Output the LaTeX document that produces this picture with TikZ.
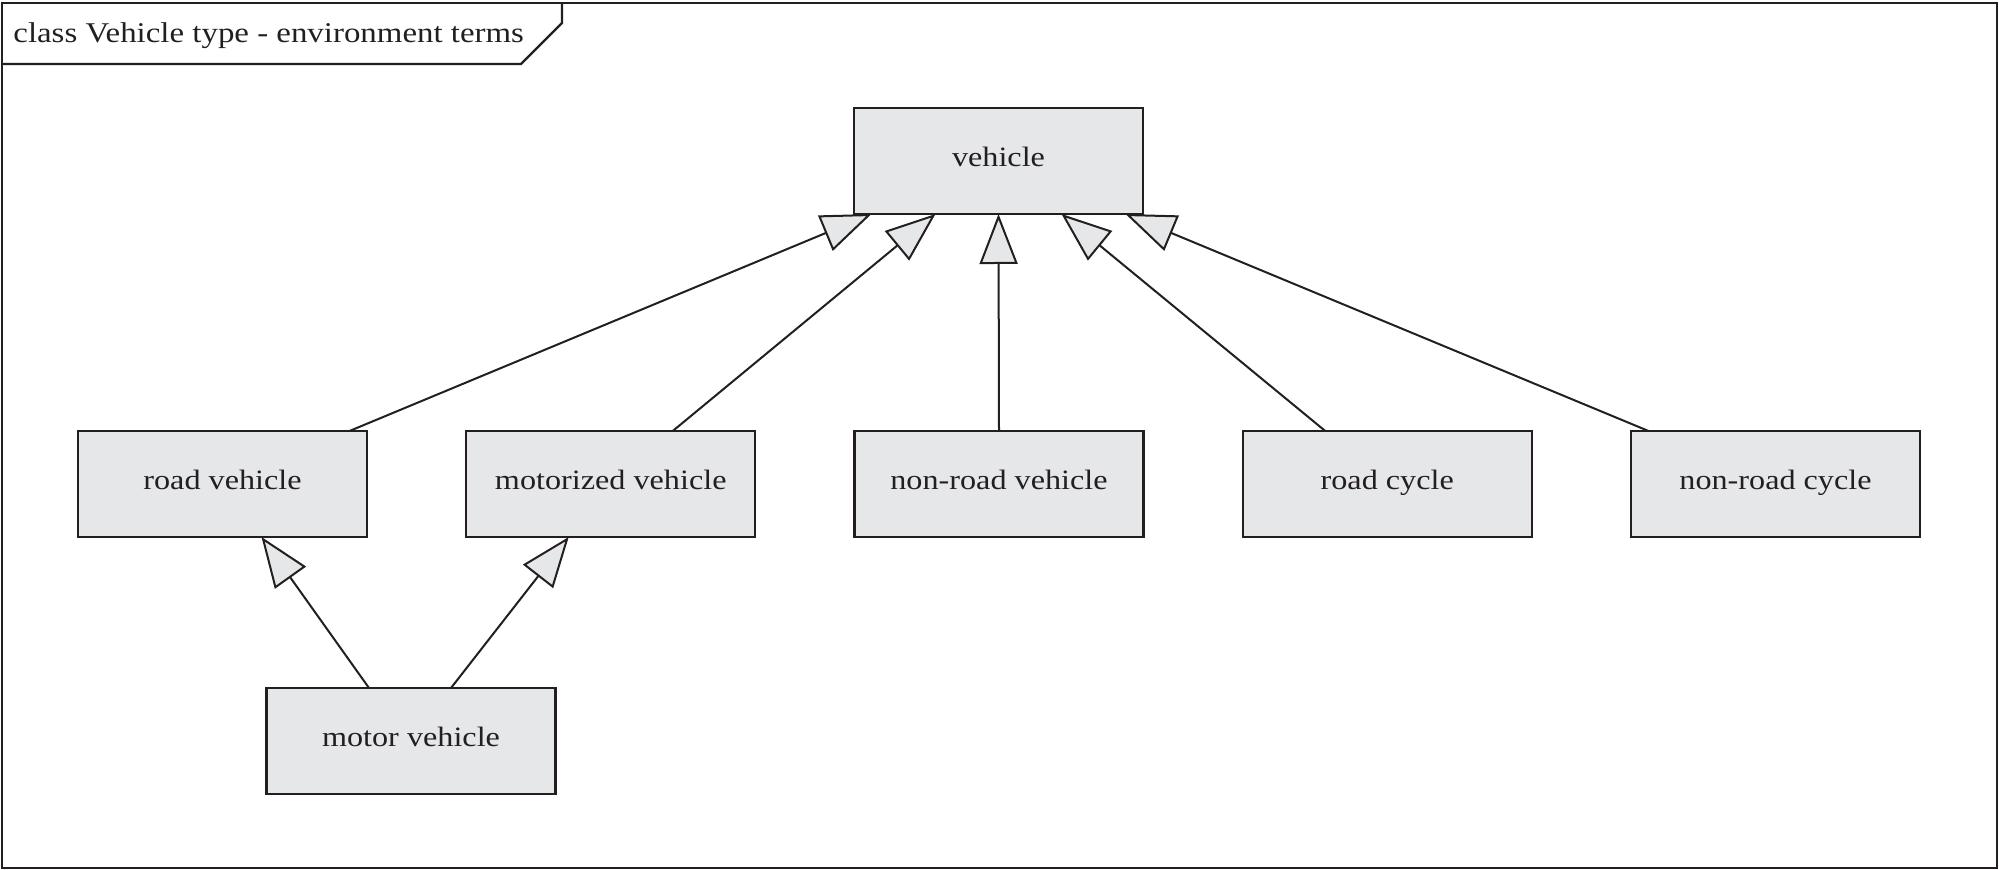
\documentclass[tikz,border=0pt]{standalone}
\usepackage{fontspec}
\setmainfont[FakeStretch=1.15]{Liberation Serif}
\usetikzlibrary{arrows.meta,calc}
\definecolor{gfill}{HTML}{E6E7E8}
\definecolor{ink}{HTML}{231F20}
\begin{document}
\begin{tikzpicture}[x=0.5pt,y=-0.5pt,
  cls/.style={draw=ink,fill=gfill,line width=1.2pt,minimum width=144.5pt,minimum height=53pt,
    inner sep=0pt,outer sep=0pt,text height=10pt,text depth=4pt,
    font=\fontsize{14pt}{16pt}\selectfont,text=ink},
  gen/.style={draw=ink,line width=1pt,-{Triangle[length=25pt,width=19pt,fill=gfill,line width=1pt]}},
  frm/.style={draw=ink,line width=1.1pt}]
\useasboundingbox (0,0) rectangle (1999,870);
% frame
\draw[frm] (2,3) rectangle (1997,868);
\draw[frm] (2,64) -- (521,64) -- (562,23) -- (562,3);
\node[anchor=base west,inner sep=0pt,text=ink,font=\fontsize{14.3pt}{16pt}\selectfont] (title) at (13,43) {class Vehicle type - environment terms};
% classes
\node[cls] (veh) at (998.5,161) {vehicle};
\node[cls] (rv)  at (222.5,484) {road vehicle};
\node[cls] (mzv) at (610.75,484) {motorized vehicle};
\node[cls] (nrv) at (999,484) {non-road vehicle};
\node[cls] (rc)  at (1387.25,484) {road cycle};
\node[cls] (nrc) at (1775.5,484) {non-road cycle};
\node[cls] (mv)  at (411,741) {motor vehicle};
% generalizations
\draw[gen] ($(rv.north)+(127,0)$) -- ($(veh.south)+(-127,0)$);
\draw[gen] ($(mzv.north)+(62,0)$) -- ($(veh.south)+(-63,0)$);
\draw[gen] (nrv.north) -- (veh.south);
\draw[gen] ($(rc.north)+(-62,0)$) -- ($(veh.south)+(63,0)$);
\draw[gen] ($(nrc.north)+(-127,0)$) -- ($(veh.south)+(127,0)$);
\draw[gen] ($(mv.north)+(-42,0)$) -- ($(rv.south)+(39,0)$);
\draw[gen] ($(mv.north)+(40,0)$) -- ($(mzv.south)+(-42,0)$);
\end{tikzpicture}
\end{document}
